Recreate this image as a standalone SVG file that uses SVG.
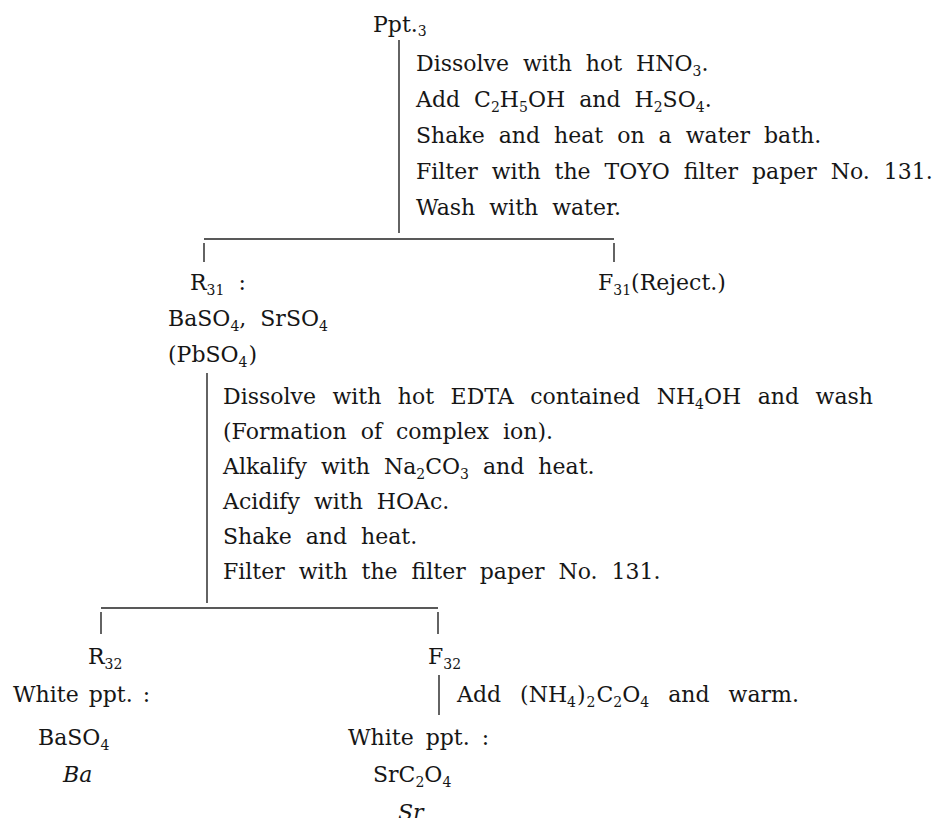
<svg xmlns="http://www.w3.org/2000/svg" width="944" height="818" viewBox="0 0 944 818">
<style>
text{font-family:"DejaVu Serif","Liberation Serif",serif;font-size:22px;word-spacing:7px;fill:#161616}
.s{font-size:14px}
.i{font-style:italic}
.ln{stroke:#222;stroke-width:1.4;fill:none}
</style>
<rect width="944" height="818" fill="#fff"/>
<g id="connectors" class="ln">
<line x1="399" y1="40" x2="399" y2="233"/>
<line x1="204" y1="239" x2="614" y2="239"/>
<line x1="204" y1="243" x2="204" y2="262"/>
<line x1="614" y1="243" x2="614" y2="262"/>
<line x1="207" y1="373" x2="207" y2="603"/>
<line x1="101" y1="608" x2="438" y2="608"/>
<line x1="101" y1="612" x2="101" y2="634"/>
<line x1="438" y1="612" x2="438" y2="634"/>
<line x1="439" y1="675" x2="439" y2="715"/>
</g>
<g id="node-ppt3"><text x="373" y="32">Ppt.<tspan class="s" dy="4">3</tspan></text></g>
<g id="step-1">
<text x="416" y="71">Dissolve with hot HNO<tspan class="s" dy="5">3</tspan><tspan dy="-5">.</tspan></text>
<text x="416" y="107">Add C<tspan class="s" dy="5">2</tspan><tspan dy="-5">H</tspan><tspan class="s" dy="5">5</tspan><tspan dy="-5">OH and H</tspan><tspan class="s" dy="5">2</tspan><tspan dy="-5">SO</tspan><tspan class="s" dy="5">4</tspan><tspan dy="-5">.</tspan></text>
<text x="416" y="143">Shake and heat on a water bath.</text>
<text x="416" y="179">Filter with the TOYO filter paper No. 131.</text>
<text x="416" y="215">Wash with water.</text>
</g>
<g id="node-r31">
<text x="190" y="290">R<tspan class="s" dy="5">31</tspan><tspan dy="-5"> :</tspan></text>
<text x="168" y="326">BaSO<tspan class="s" dy="5">4</tspan><tspan dy="-5">, SrSO</tspan><tspan class="s" dy="5">4</tspan></text>
<text x="168" y="362">(PbSO<tspan class="s" dy="5">4</tspan><tspan dy="-5" dx="1">)</tspan></text>
</g>
<g id="node-f31"><text x="598" y="290">F<tspan class="s" dy="5">31</tspan><tspan dy="-5">(Reject.)</tspan></text></g>
<g id="step-2">
<text x="223" y="404" style="word-spacing:9.5px">Dissolve with hot EDTA contained NH<tspan class="s" dy="5">4</tspan><tspan dy="-5">OH and wash</tspan></text>
<text x="223" y="439">(Formation of complex ion).</text>
<text x="223" y="474">Alkalify with Na<tspan class="s" dy="5">2</tspan><tspan dy="-5">CO</tspan><tspan class="s" dy="5">3</tspan><tspan dy="-5"> and heat.</tspan></text>
<text x="223" y="509">Acidify with HOAc.</text>
<text x="223" y="544">Shake and heat.</text>
<text x="223" y="579">Filter with the filter paper No. 131.</text>
</g>
<g id="node-r32">
<text x="88" y="664">R<tspan class="s" dy="5">32</tspan></text>
<text x="13" y="702" style="word-spacing:3px">White ppt. :</text>
<text x="38" y="745">BaSO<tspan class="s" dy="5">4</tspan></text>
<text class="i" x="63" y="782">Ba</text>
</g>
<g id="node-f32"><text x="428" y="664">F<tspan class="s" dy="5">32</tspan></text></g>
<g id="step-3">
<text x="457" y="702" style="word-spacing:12px">Add (NH<tspan class="s" dy="5">4</tspan><tspan dy="-5" dx="1">)</tspan><tspan class="s" dy="5" dx="1">2</tspan><tspan dy="-5" dx="1">C</tspan><tspan class="s" dy="5">2</tspan><tspan dy="-5">O</tspan><tspan class="s" dy="5">4</tspan><tspan dy="-5"> and warm.</tspan></text>
</g>
<g id="node-sr">
<text x="348" y="745" style="word-spacing:5px">White ppt. :</text>
<text x="373" y="782">SrC<tspan class="s" dy="5">2</tspan><tspan dy="-5">O</tspan><tspan class="s" dy="5">4</tspan></text>
<text class="i" x="398" y="820">Sr</text>
</g>
</svg>
